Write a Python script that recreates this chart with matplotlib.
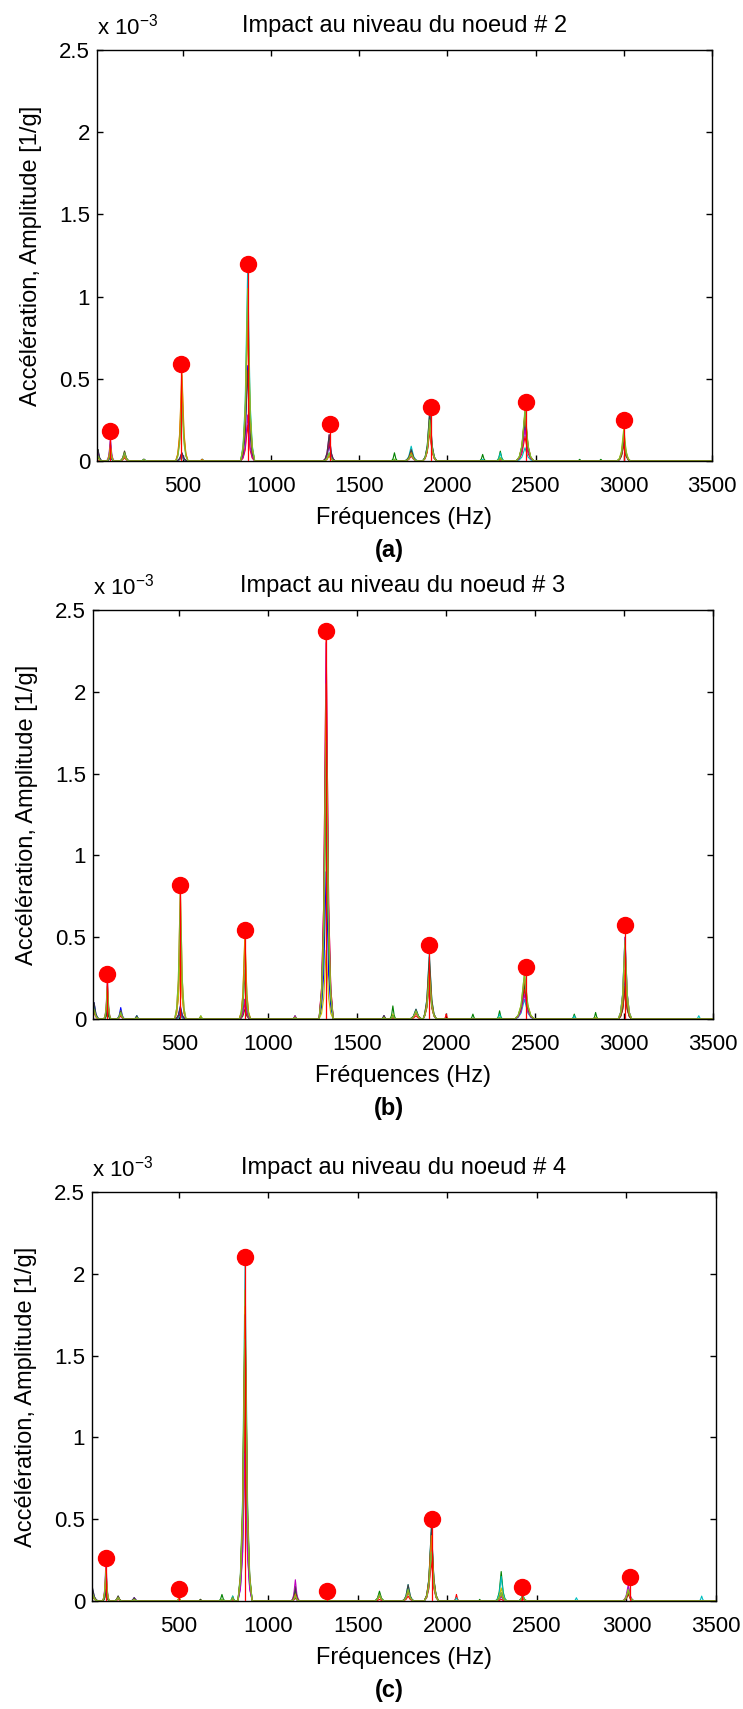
import numpy as np
import matplotlib.pyplot as plt
from matplotlib.ticker import FuncFormatter

plt.rcParams['font.family'] = ['Liberation Sans', 'DejaVu Sans']
plt.rcParams['mathtext.fontset'] = 'custom'
plt.rcParams['mathtext.rm'] = 'Liberation Sans'

# channel colours (MATLAB-like)
colors = [(0, 0, 1), (0, 0.5, 0), (1, 0, 0), (0, 0.75, 0.75), (0.75, 0, 0.75),
          (0.75, 0.75, 0), (0.25, 0.25, 0.25), (0.87, 0.49, 0.0), (0.47, 0.75, 0.2)]

titles = ['Impact au niveau du noeud # 2', 'Impact au niveau du noeud # 3', 'Impact au niveau du noeud # 4']
tags = ['(a)', '(b)', '(c)']

# identified peaks (red dots), Hz and amplitude x1e-3
mark_f_a = [88, 490, 870, 1333, 1905, 2443, 3003]
mark_v_a = [0.18, 0.59, 1.20, 0.223, 0.328, 0.358, 0.247]
mark_f_b = [95, 503, 868, 1325, 1905, 2450, 3006]
mark_v_b = [0.274, 0.82, 0.547, 2.37, 0.453, 0.32, 0.572]
mark_f_c = [92, 500, 869, 1329, 1911, 2417, 3018]
mark_v_c = [0.264, 0.076, 2.10, 0.062, 0.50, 0.087, 0.149]

# spectrum peaks per channel: freq (Hz), half width (Hz), amplitude x1e-3 per channel
peak_f_a = [20, 90, 170, 280, 495, 610, 868, 1330, 1700, 1795, 1900, 2200, 2300, 2440, 2750, 2870, 3000]
peak_w_a = [25, 22, 30, 22, 35, 18, 40, 35, 22, 40, 40, 22, 25, 50, 18, 18, 38]
peak_amp_a = [
    [0.06, 0.05, 0.00, 0.04, 0.05, 0.03, 0.07, 0.02, 0.03],
    [0.03, 0.05, 0.10, 0.12, 0.14, 0.08, 0.05, 0.10, 0.06],
    [0.05, 0.04, 0.02, 0.03, 0.04, 0.06, 0.06, 0.03, 0.05],
    [0.01, 0.01, 0.00, 0.01, 0.01, 0.01, 0.01, 0.00, 0.01],
    [0.05, 0.03, 0.45, 0.03, 0.04, 0.52, 0.05, 0.57, 0.35],
    [0.01, 0.01, 0.00, 0.01, 0.00, 0.01, 0.01, 0.01, 0.00],
    [0.58, 0.90, 0.22, 1.17, 0.28, 0.97, 0.55, 0.85, 1.05],
    [0.10, 0.04, 0.12, 0.05, 0.16, 0.04, 0.16, 0.03, 0.05],
    [0.00, 0.05, 0.00, 0.01, 0.00, 0.01, 0.00, 0.00, 0.01],
    [0.06, 0.05, 0.03, 0.09, 0.04, 0.05, 0.07, 0.05, 0.04],
    [0.25, 0.20, 0.18, 0.30, 0.22, 0.28, 0.31, 0.20, 0.25],
    [0.00, 0.04, 0.00, 0.01, 0.00, 0.00, 0.00, 0.00, 0.00],
    [0.01, 0.06, 0.00, 0.05, 0.01, 0.02, 0.01, 0.01, 0.02],
    [0.22, 0.28, 0.15, 0.08, 0.20, 0.30, 0.28, 0.30, 0.32],
    [0.00, 0.01, 0.00, 0.00, 0.00, 0.00, 0.00, 0.00, 0.00],
    [0.00, 0.01, 0.00, 0.00, 0.00, 0.00, 0.00, 0.00, 0.00],
    [0.12, 0.10, 0.10, 0.15, 0.14, 0.20, 0.12, 0.15, 0.18],
]

peak_f_b = [20, 95, 170, 260, 505, 620, 868, 1150, 1325, 1650, 1700, 1830, 1905, 2000, 2150, 2300, 2440, 2720, 2840, 3005, 3420]
peak_w_b = [30, 20, 25, 18, 32, 18, 32, 18, 40, 18, 20, 40, 40, 15, 18, 20, 55, 18, 18, 38, 18]
peak_amp_b = [
    [0.10, 0.07, 0.04, 0.07, 0.06, 0.05, 0.10, 0.05, 0.06],
    [0.08, 0.05, 0.15, 0.20, 0.25, 0.18, 0.10, 0.22, 0.20],
    [0.07, 0.03, 0.02, 0.04, 0.03, 0.05, 0.05, 0.03, 0.04],
    [0.02, 0.01, 0.00, 0.02, 0.01, 0.01, 0.02, 0.01, 0.01],
    [0.08, 0.03, 0.45, 0.02, 0.05, 0.42, 0.07, 0.80, 0.78],
    [0.01, 0.01, 0.00, 0.02, 0.01, 0.02, 0.01, 0.01, 0.01],
    [0.12, 0.06, 0.10, 0.45, 0.12, 0.52, 0.27, 0.50, 0.30],
    [0.01, 0.02, 0.00, 0.01, 0.02, 0.01, 0.01, 0.01, 0.01],
    [0.90, 1.50, 2.35, 1.90, 2.30, 0.42, 1.95, 2.05, 1.70],
    [0.02, 0.02, 0.00, 0.01, 0.02, 0.01, 0.02, 0.01, 0.01],
    [0.01, 0.08, 0.00, 0.02, 0.01, 0.03, 0.02, 0.01, 0.02],
    [0.05, 0.04, 0.02, 0.06, 0.04, 0.05, 0.06, 0.04, 0.05],
    [0.30, 0.25, 0.22, 0.40, 0.28, 0.35, 0.38, 0.30, 0.25],
    [0.00, 0.00, 0.03, 0.00, 0.00, 0.00, 0.00, 0.00, 0.00],
    [0.00, 0.03, 0.00, 0.00, 0.00, 0.00, 0.00, 0.00, 0.00],
    [0.00, 0.05, 0.00, 0.03, 0.00, 0.01, 0.00, 0.00, 0.01],
    [0.22, 0.20, 0.18, 0.12, 0.15, 0.28, 0.22, 0.25, 0.28],
    [0.00, 0.03, 0.00, 0.02, 0.00, 0.00, 0.00, 0.00, 0.00],
    [0.00, 0.04, 0.00, 0.00, 0.00, 0.01, 0.00, 0.00, 0.00],
    [0.25, 0.20, 0.18, 0.50, 0.50, 0.45, 0.20, 0.30, 0.48],
    [0.00, 0.00, 0.00, 0.02, 0.00, 0.00, 0.00, 0.00, 0.00],
]

peak_f_c = [15, 92, 160, 250, 500, 620, 740, 800, 869, 1150, 1330, 1620, 1780, 1910, 2050, 2180, 2300, 2420, 2720, 3010, 3420]
peak_w_c = [35, 20, 25, 25, 18, 15, 22, 18, 40, 25, 18, 32, 35, 40, 18, 12, 32, 30, 18, 35, 18]
peak_amp_c = [
    [0.08, 0.05, 0.04, 0.05, 0.05, 0.04, 0.09, 0.05, 0.05],
    [0.08, 0.06, 0.15, 0.20, 0.24, 0.18, 0.07, 0.20, 0.17],
    [0.03, 0.02, 0.01, 0.02, 0.02, 0.03, 0.03, 0.02, 0.02],
    [0.02, 0.01, 0.00, 0.01, 0.02, 0.01, 0.02, 0.01, 0.01],
    [0.01, 0.01, 0.00, 0.01, 0.01, 0.02, 0.01, 0.02, 0.01],
    [0.00, 0.01, 0.00, 0.00, 0.00, 0.01, 0.01, 0.00, 0.00],
    [0.00, 0.04, 0.00, 0.01, 0.00, 0.01, 0.00, 0.00, 0.01],
    [0.01, 0.03, 0.00, 0.03, 0.01, 0.02, 0.02, 0.01, 0.02],
    [1.00, 1.70, 1.25, 2.05, 0.90, 1.90, 1.75, 1.80, 1.60],
    [0.02, 0.09, 0.02, 0.06, 0.13, 0.05, 0.07, 0.04, 0.03],
    [0.01, 0.01, 0.00, 0.02, 0.01, 0.01, 0.01, 0.01, 0.01],
    [0.04, 0.06, 0.01, 0.04, 0.03, 0.04, 0.04, 0.03, 0.04],
    [0.07, 0.06, 0.03, 0.10, 0.06, 0.07, 0.10, 0.06, 0.07],
    [0.30, 0.42, 0.25, 0.45, 0.35, 0.40, 0.45, 0.40, 0.30],
    [0.00, 0.00, 0.04, 0.02, 0.00, 0.00, 0.00, 0.00, 0.00],
    [0.00, 0.01, 0.00, 0.00, 0.00, 0.00, 0.00, 0.00, 0.00],
    [0.03, 0.18, 0.01, 0.15, 0.03, 0.08, 0.05, 0.04, 0.05],
    [0.03, 0.02, 0.01, 0.04, 0.02, 0.03, 0.03, 0.02, 0.03],
    [0.00, 0.00, 0.00, 0.02, 0.00, 0.00, 0.00, 0.00, 0.00],
    [0.06, 0.05, 0.04, 0.08, 0.10, 0.07, 0.05, 0.06, 0.07],
    [0.00, 0.00, 0.00, 0.03, 0.00, 0.00, 0.00, 0.00, 0.00],
]

panels = [
    (peak_f_a, peak_w_a, peak_amp_a, mark_f_a, mark_v_a),
    (peak_f_b, peak_w_b, peak_amp_b, mark_f_b, mark_v_b),
    (peak_f_c, peak_w_c, peak_amp_c, mark_f_c, mark_v_c),
]

# axes rectangles in pixels: left, top, right, bottom
W, H = 743, 1709
boxes = [(97, 50, 712, 461), (93, 610, 713, 1019), (92, 1192, 716, 1601)]

# resonance shape template (relative position, relative height)
shape_x = [-1.0, -0.65, -0.35, -0.12, 0.0, 0.12, 0.35, 0.65, 1.0]
shape_y = [0.0, 0.08, 0.3, 0.75, 1.0, 0.75, 0.3, 0.08, 0.0]


def channel_curve(freqs, widths, amps, ch):
    xs = [0.0, 3500.0]
    ys = [0.0, 0.0]
    for f, w, row in zip(freqs, widths, amps):
        a = row[ch]
        if a <= 0:
            continue
        for sx, sy in zip(shape_x, shape_y):
            xs.append(f + sx * w)
            ys.append(a * sy)
    order = np.argsort(xs, kind='stable')
    return np.array(xs)[order], np.array(ys)[order] * 1e-3


fig = plt.figure(figsize=(W / 100, H / 100), dpi=100)

for i, (pf, pw, pa, mf, mv) in enumerate(panels):
    l, t, r, b = boxes[i]
    ax = fig.add_axes([l / W, 1 - b / H, (r - l) / W, (b - t) / H])
    for ch, c in enumerate(colors):
        x, y = channel_curve(pf, pw, pa, ch)
        ax.plot(x, y, color=c, lw=0.8)
    mv_arr = np.array(mv) * 1e-3
    ax.vlines(mf, 0, mv_arr, color='red', lw=0.9, zorder=5)
    ax.plot(mf, mv_arr, 'o', color='red', ms=11.5, zorder=6)

    ax.set_xlim(14, 3500)
    ax.set_ylim(0, 2.5e-3)
    ax.set_xticks([500, 1000, 1500, 2000, 2500, 3000, 3500])
    ax.set_yticks(np.arange(0, 2.51, 0.5) * 1e-3)
    ax.yaxis.set_major_formatter(FuncFormatter(lambda v, p: '%g' % round(v * 1e3, 3)))
    ax.tick_params(direction='in', length=4, width=1, top=True, right=True,
                   labelsize=16)
    ax.tick_params(axis='x', pad=11)
    ax.tick_params(axis='y', pad=5)
    for s in ax.spines.values():
        s.set_linewidth(1.0)

    ax.set_title(titles[i], fontsize=17, pad=13)
    ax.set_xlabel('Fréquences (Hz)', fontsize=17, labelpad=7)
    ax.set_ylabel('Accélération, Amplitude [1/g]', fontsize=17, labelpad=12)
    ax.text(0, 1.025, r'x 10$^{\mathregular{-3}}$', transform=ax.transAxes,
            fontsize=16, ha='left', va='bottom')
    fig.text(389 / W, 1 - (b + 89) / H, tags[i], fontsize=17, fontweight='bold',
             ha='center', va='center')

fig.savefig('out.png', dpi=100)
